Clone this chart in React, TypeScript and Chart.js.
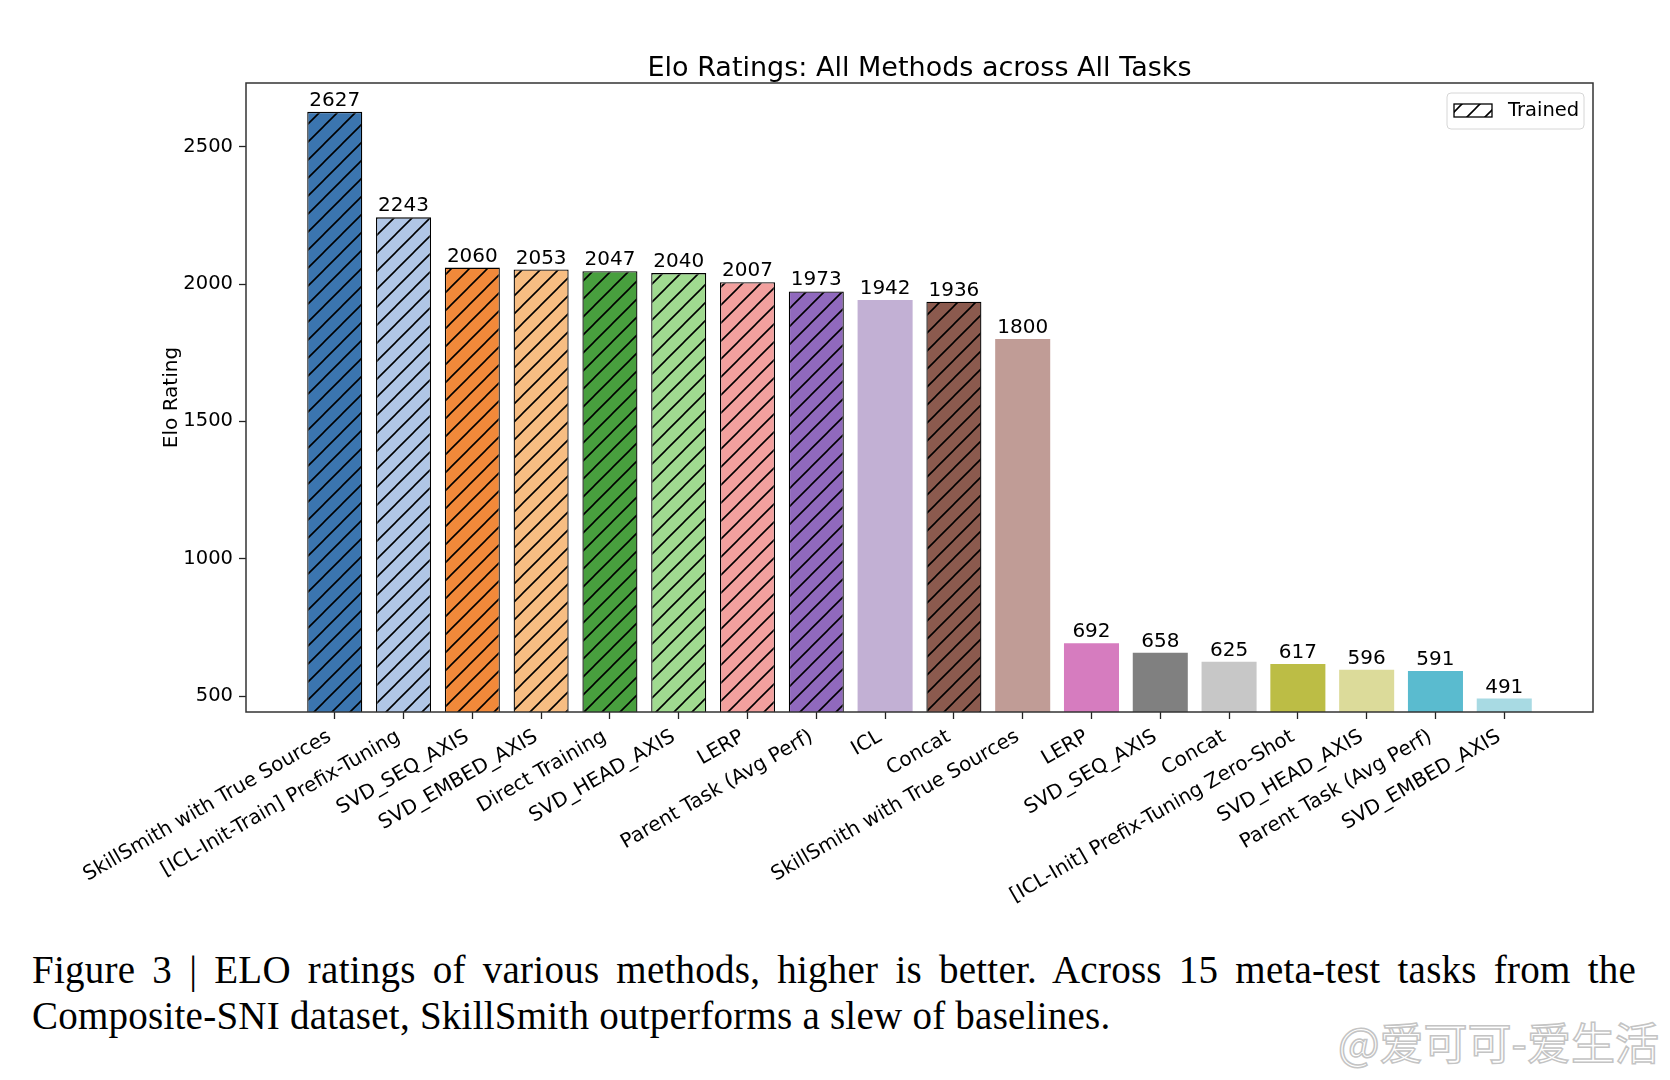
import React, { useEffect, useRef } from "react";
import { Chart, registerables } from "chart.js";

Chart.register(...registerables);

// ---------------- data ----------------
const methods = [
  "SkillSmith with True Sources",
  "[ICL-Init-Train] Prefix-Tuning",
  "SVD_SEQ_AXIS",
  "SVD_EMBED_AXIS",
  "Direct Training",
  "SVD_HEAD_AXIS",
  "LERP",
  "Parent Task (Avg Perf)",
  "ICL",
  "Concat",
  "SkillSmith with True Sources",
  "LERP",
  "SVD_SEQ_AXIS",
  "Concat",
  "[ICL-Init] Prefix-Tuning Zero-Shot",
  "SVD_HEAD_AXIS",
  "Parent Task (Avg Perf)",
  "SVD_EMBED_AXIS",
];
const eloRatings = [2627, 2243, 2060, 2053, 2047, 2040, 2007, 1973, 1942, 1936, 1800, 692, 658, 625, 617, 596, 591, 491];
const trained = [true, true, true, true, true, true, true, true, false, true, false, false, false, false, false, false, false, false];
const barColors = [
  "#3b75af", "#b0c6e6", "#f1893a", "#f7bd82", "#489f3e", "#a0da90",
  "#f2a09e", "#9069bd", "#c2b0d4", "#8b5a4e", "#c09c96", "#d67cbf",
  "#808080", "#c7c7c7", "#bcbd45", "#dcdb9a", "#5abbcf", "#a8dae3",
];
const yTicks = [500, 1000, 1500, 2000, 2500];
const chartTitle = "Elo Ratings: All Methods across All Tasks";
const yAxisTitle = "Elo Rating";
const legendLabel = "Trained";
const captionLine1 = "Figure 3 | ELO ratings of various methods, higher is better.  Across 15 meta-test tasks from the";
const captionLine2 = "Composite-SNI dataset, SkillSmith outperforms a slew of baselines.";
const watermark = "@爱可可-爱生活";

const FONT = "'DejaVu Sans', sans-serif";

function makeHatch(color: string): CanvasPattern {
  const s = 18;
  const c = document.createElement("canvas");
  c.width = s;
  c.height = s;
  const g = c.getContext("2d")!;
  g.fillStyle = color;
  g.fillRect(0, 0, s, s);
  g.strokeStyle = "#000";
  g.lineWidth = 1.6;
  g.beginPath();
  g.moveTo(0, s);
  g.lineTo(s, 0);
  g.moveTo(-s / 2, s / 2);
  g.lineTo(s / 2, -s / 2);
  g.moveTo(s / 2, s * 1.5);
  g.lineTo(s * 1.5, s / 2);
  g.stroke();
  return g.createPattern(c, "repeat")!;
}

const decorPlugin = {
  id: "decor",
  afterDatasetsDraw(chart: any) {
    const { ctx, chartArea: a } = chart;
    const meta = chart.getDatasetMeta(0);
    ctx.save();
    // value labels
    ctx.font = `20px ${FONT}`;
    ctx.fillStyle = "#000";
    ctx.textAlign = "center";
    ctx.textBaseline = "alphabetic";
    meta.data.forEach((bar: any, i: number) => {
      ctx.fillText(String(eloRatings[i]), bar.x, bar.y - 6);
    });
    // frame
    ctx.strokeStyle = "#333";
    ctx.lineWidth = 1.5;
    ctx.strokeRect(a.left, a.top, a.right - a.left, a.bottom - a.top);
    // title
    ctx.font = `27px ${FONT}`;
    ctx.fillText(chartTitle, (a.left + a.right) / 2, a.top - 7);
    // legend
    const bw = 137, bh = 36;
    const bx = a.right - 9 - bw, by = a.top + 10;
    ctx.beginPath();
    ctx.roundRect(bx, by, bw, bh, 4);
    ctx.fillStyle = "rgba(255,255,255,0.85)";
    ctx.fill();
    ctx.strokeStyle = "#d6d6d6";
    ctx.lineWidth = 1;
    ctx.stroke();
    const px = bx + 7, py = by + 11, pw = 38, ph = 13;
    ctx.fillStyle = makeHatch("#ffffff");
    ctx.fillRect(px, py, pw, ph);
    ctx.strokeStyle = "#000";
    ctx.lineWidth = 1.3;
    ctx.strokeRect(px, py, pw, ph);
    ctx.fillStyle = "#000";
    ctx.font = `19.5px ${FONT}`;
    ctx.textAlign = "left";
    ctx.textBaseline = "middle";
    ctx.fillText(legendLabel, bx + 61, by + bh / 2);
    ctx.restore();
  },
};

export default function App() {
  const ref = useRef<HTMLCanvasElement | null>(null);

  useEffect(() => {
    if (!ref.current) return;
    const n = eloRatings.length;
    const span = n - 1 + 0.8;
    const xMin = -0.4 - 0.05 * span;
    const xMax = n - 1 + 0.4 + 0.05 * span;
    const yMin = Math.min(...eloRatings) * 0.9;
    const yMax = Math.max(...eloRatings) * 1.04;
    const font = { family: FONT, size: 20 };
    const yTickFont = { family: FONT, size: 19.5 };

    const chart = new Chart(ref.current, {
      type: "bar",
      data: {
        datasets: [
          {
            data: eloRatings.map((v, i) => ({ x: i, y: v })),
            backgroundColor: barColors.map((c, i) => (trained[i] ? makeHatch(c) : c)),
            borderColor: trained.map((t) => (t ? "#000" : "rgba(0,0,0,0)")),
            borderWidth: trained.map((t) => (t ? 1.3 : 0)),
            barPercentage: 0.8,
            categoryPercentage: 1,
          } as any,
        ],
      },
      options: {
        responsive: false,
        animation: false,
        layout: { padding: { left: 146, right: 77, top: 83, bottom: 18 } },
        plugins: {
          legend: { display: false },
          title: { display: false },
          tooltip: { enabled: false },
        },
        scales: {
          x: {
            type: "linear",
            offset: false,
            min: xMin,
            max: xMax,
            afterBuildTicks: (s: any) => {
              s.ticks = methods.map((_, i) => ({ value: i }));
            },
            afterFit: (s: any) => {
              s.height = 200;
            },
            grid: { offset: false, drawOnChartArea: false, drawTicks: true, tickLength: 7, color: "#222", tickWidth: 1.3 },
            border: { display: false },
            ticks: {
              autoSkip: false,
              minRotation: 30,
              maxRotation: 30,
              padding: 6,
              labelOffset: -5,
              font,
              color: "#000",
              callback: (v: any) => methods[v as number] ?? "",
            },
          },
          y: {
            type: "linear",
            min: yMin,
            max: yMax,
            afterBuildTicks: (s: any) => {
              s.ticks = yTicks.map((v) => ({ value: v }));
            },
            afterFit: (s: any) => {
              s.width = 100;
            },
            grid: { drawOnChartArea: false, drawTicks: true, tickLength: 7, color: "#222", tickWidth: 1.3 },
            border: { display: false },
            ticks: { font: yTickFont, color: "#000", padding: 6, callback: (v: any) => String(v) },
            title: { display: true, text: yAxisTitle, font, color: "#000", padding: { top: 14, bottom: 0 } },
          },
        },
      },
      plugins: [decorPlugin],
    } as any);
    return () => chart.destroy();
  }, []);

  const serif = "'Liberation Serif', 'Times New Roman', serif";
  return (
    <div style={{ position: "absolute", left: 0, top: 0, width: 1670, height: 1080, background: "#fff", overflow: "hidden" }}>
      <canvas ref={ref} width={1670} height={930} style={{ position: "absolute", left: 0, top: 0, width: 1670, height: 930 }} />
      <div
        style={{
          position: "absolute", left: 32, top: 950, width: 1604,
          fontFamily: serif, fontSize: 39, lineHeight: "39px", color: "#000", letterSpacing: "0.24px",
          textAlign: "justify", textAlignLast: "justify", whiteSpace: "normal",
        }}
      >
        {captionLine1}
      </div>
      <div
        style={{
          position: "absolute", left: 32, top: 996, whiteSpace: "nowrap",
          fontFamily: serif, fontSize: 39, lineHeight: "39px", color: "#000", letterSpacing: "0.24px",
        }}
      >
        {captionLine2}
      </div>
      <div
        style={{
          position: "absolute", left: 1338, top: 1016, whiteSpace: "nowrap",
          fontFamily: "'Noto Sans CJK SC', sans-serif", fontSize: 44, lineHeight: "50px",
          color: "#fff", WebkitTextStroke: "1.5px #c4c4c4",
        }}
      >
        {watermark}
      </div>
    </div>
  );
}
